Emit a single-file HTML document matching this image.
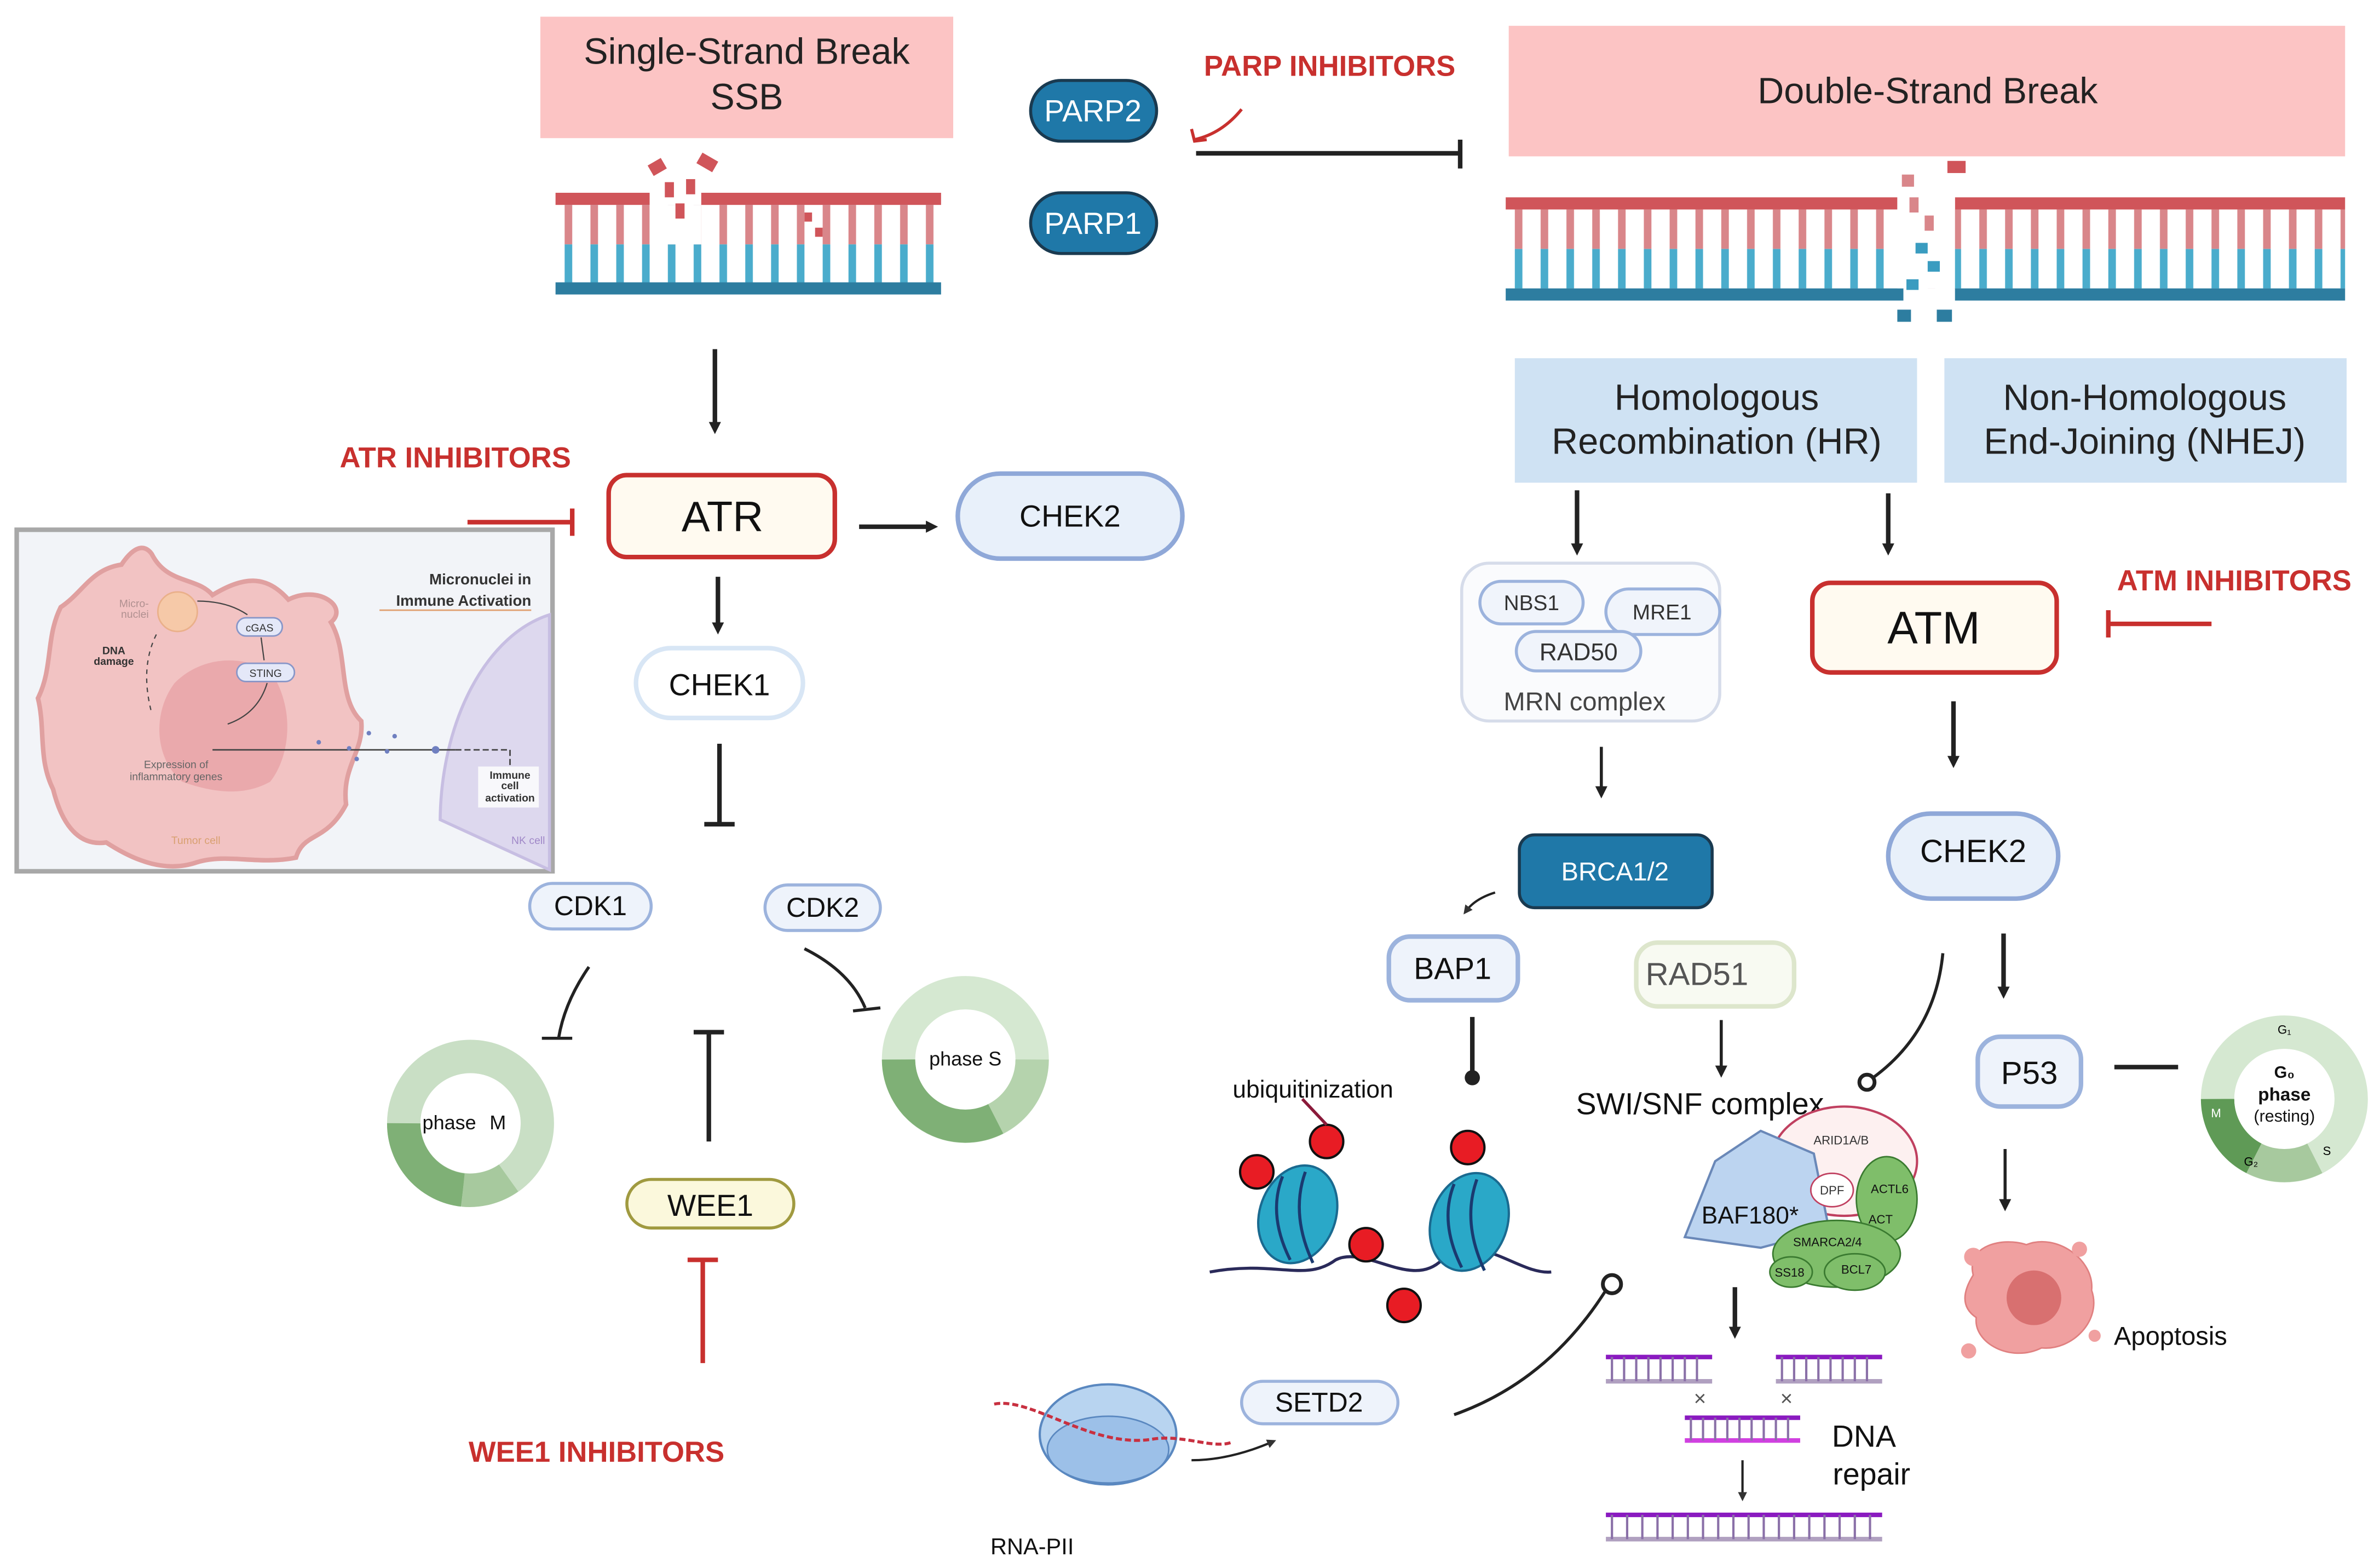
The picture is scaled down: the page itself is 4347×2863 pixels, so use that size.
<!DOCTYPE html>
<html><head><meta charset="utf-8"><style>
html,body{margin:0;padding:0;background:#fff;}
svg{display:block;}
text{font-family:"Liberation Sans",sans-serif;}
</style></head><body>
<svg width="4347" height="2863" viewBox="0 0 1568 1033" preserveAspectRatio="none" xmlns="http://www.w3.org/2000/svg">
<defs>
<marker id="ah" markerWidth="8" markerHeight="8" refX="4" refY="4" orient="auto" markerUnits="userSpaceOnUse" viewBox="0 0 8 8"><path d="M0,0 L8,4 L0,8 z" fill="#222"/></marker>
<marker id="ahs" markerWidth="6" markerHeight="6" refX="3" refY="3" orient="auto" markerUnits="userSpaceOnUse" viewBox="0 0 6 6"><path d="M0,0 L6,3 L0,6 z" fill="#333"/></marker>
<pattern id="tr" x="366" y="135" width="17" height="52" patternUnits="userSpaceOnUse"><rect x="6" y="0" width="5" height="26" fill="#d9868a"/><rect x="6" y="26" width="5" height="26" fill="#4aaccc"/></pattern>
<pattern id="tr2" x="992" y="138" width="17" height="52" patternUnits="userSpaceOnUse"><rect x="6" y="0" width="5" height="26" fill="#d9868a"/><rect x="6" y="26" width="5" height="26" fill="#4aaccc"/></pattern>
</defs>
<rect width="1568" height="1033" fill="#fff"/>

<!-- SSB -->
<rect x="356" y="11" width="272" height="80" fill="#fcc4c4"/>
<text x="492" y="42" font-size="24" text-anchor="middle" fill="#222">Single-Strand Break</text>
<text x="492" y="72" font-size="24" text-anchor="middle" fill="#222">SSB</text>
<rect x="366" y="135" width="254" height="52" fill="url(#tr)"/>
<rect x="366" y="127" width="62" height="8" fill="#d0555a"/>
<rect x="462" y="127" width="158" height="8" fill="#d0555a"/>
<rect x="366" y="186" width="254" height="8" fill="#2d7da0"/>
<rect x="428" y="135" width="34" height="26" fill="#fff"/>
<g fill="#d0555a"><rect x="428" y="106" width="10" height="8" transform="rotate(-30 433 110)"/><rect x="460" y="103" width="12" height="8" transform="rotate(30 466 107)"/><rect x="438" y="120" width="6" height="10"/><rect x="452" y="118" width="6" height="10"/><rect x="445" y="134" width="6" height="10"/><rect x="530" y="140" width="5" height="6"/><rect x="537" y="150" width="5" height="6"/></g>

<!-- PARP -->
<rect x="679" y="53" width="83" height="40" rx="20" fill="#1f78a8" stroke="#1a3a50" stroke-width="2"/>
<text x="720" y="80" font-size="20" text-anchor="middle" fill="#fff">PARP2</text>
<rect x="679" y="127" width="83" height="40" rx="20" fill="#1f78a8" stroke="#1a3a50" stroke-width="2"/>
<text x="720" y="154" font-size="20" text-anchor="middle" fill="#fff">PARP1</text>
<text x="876" y="50" font-size="19" font-weight="bold" text-anchor="middle" fill="#c8302e">PARP INHIBITORS</text>
<path d="M818,72 Q805,88 787,92" stroke="#c8302e" stroke-width="2" fill="none"/>
<path d="M785,85 L787,93 L795,92" stroke="#c8302e" stroke-width="2" fill="none"/>
<line x1="788" y1="101" x2="962" y2="101" stroke="#222" stroke-width="3"/>
<line x1="962" y1="92" x2="962" y2="111" stroke="#222" stroke-width="3"/>

<!-- DSB -->
<rect x="994" y="17" width="551" height="86" fill="#fcc4c4"/>
<text x="1270" y="68" font-size="24" text-anchor="middle" fill="#222">Double-Strand Break</text>
<rect x="992" y="138" width="553" height="52" fill="url(#tr2)"/>
<rect x="992" y="130" width="258" height="8" fill="#d0555a"/>
<rect x="1288" y="130" width="257" height="8" fill="#d0555a"/>
<rect x="992" y="190" width="262" height="8" fill="#2d7da0"/>
<rect x="1288" y="190" width="257" height="8" fill="#2d7da0"/>
<rect x="1250" y="130" width="38" height="60" fill="#fff"/>
<g fill="#d9868a"><rect x="1253" y="115" width="8" height="8"/><rect x="1283" y="106" width="12" height="8" fill="#d0555a"/><rect x="1258" y="130" width="6" height="10"/><rect x="1268" y="142" width="6" height="10"/></g>
<g fill="#3a9cc0"><rect x="1262" y="160" width="8" height="7"/><rect x="1270" y="172" width="8" height="7"/><rect x="1256" y="184" width="8" height="7"/><rect x="1276" y="204" width="10" height="8" fill="#2d7da0"/><rect x="1250" y="204" width="9" height="8" fill="#2d7da0"/></g>

<rect x="998" y="236" width="265" height="82" fill="#cfe2f3"/>
<text x="1131" y="270" font-size="24" text-anchor="middle" fill="#222">Homologous</text>
<text x="1131" y="299" font-size="24" text-anchor="middle" fill="#222">Recombination (HR)</text>
<rect x="1281" y="236" width="265" height="82" fill="#cfe2f3"/>
<text x="1413" y="270" font-size="24" text-anchor="middle" fill="#222">Non-Homologous</text>
<text x="1413" y="299" font-size="24" text-anchor="middle" fill="#222">End-Joining (NHEJ)</text>

<!-- ATR branch -->
<line x1="471" y1="230" x2="471" y2="282" stroke="#222" stroke-width="3" marker-end="url(#ah)"/>
<rect x="401" y="313" width="149" height="54" rx="12" fill="#fffaf0" stroke="#c8302e" stroke-width="3"/>
<text x="476" y="350" font-size="28" text-anchor="middle" fill="#111">ATR</text>
<text x="300" y="308" font-size="19" font-weight="bold" text-anchor="middle" fill="#c8302e">ATR INHIBITORS</text>
<line x1="308" y1="344" x2="377" y2="344" stroke="#c8302e" stroke-width="3"/>
<line x1="377" y1="335" x2="377" y2="353" stroke="#c8302e" stroke-width="3"/>
<line x1="566" y1="347" x2="614" y2="347" stroke="#222" stroke-width="3" marker-end="url(#ah)"/>
<rect x="631" y="312" width="148" height="56" rx="28" fill="#e8f0fa" stroke="#8fa8d8" stroke-width="3"/>
<text x="705" y="347" font-size="20" text-anchor="middle" fill="#111">CHEK2</text>
<line x1="473" y1="380" x2="473" y2="414" stroke="#222" stroke-width="3" marker-end="url(#ah)"/>
<rect x="419" y="427" width="110" height="46" rx="23" fill="#fff" stroke="#d8e6f5" stroke-width="3"/>
<text x="474" y="458" font-size="20" text-anchor="middle" fill="#111">CHEK1</text>
<line x1="474" y1="490" x2="474" y2="543" stroke="#222" stroke-width="3"/>
<line x1="464" y1="543" x2="484" y2="543" stroke="#222" stroke-width="3"/>
<rect x="349" y="582" width="80" height="30" rx="15" fill="#eef3fb" stroke="#9cb3dd" stroke-width="2"/>
<text x="389" y="603" font-size="18" text-anchor="middle" fill="#111">CDK1</text>
<rect x="504" y="583" width="76" height="30" rx="15" fill="#eef3fb" stroke="#9cb3dd" stroke-width="2"/>
<text x="542" y="604" font-size="18" text-anchor="middle" fill="#111">CDK2</text>
<path d="M388,637 Q372,660 368,684" stroke="#222" stroke-width="2" fill="none"/><line x1="357" y1="684" x2="377" y2="684" stroke="#222" stroke-width="2"/>
<path d="M530,625 Q560,640 570,664" stroke="#222" stroke-width="2" fill="none"/><line x1="562" y1="666" x2="580" y2="664" stroke="#222" stroke-width="2"/>
<g transform="translate(310,740)">
<circle r="44" fill="none" stroke="#c9dfc5" stroke-width="22"/>
<path d="M-44,0 A44,44 0 0 0 -5,44" fill="none" stroke="#7fb076" stroke-width="22"/>
<path d="M-5,44 A44,44 0 0 0 25,36" fill="none" stroke="#a7c99e" stroke-width="22"/>
<circle r="33" fill="#fff"/>
<text x="-14" y="4" font-size="13" text-anchor="middle" fill="#111">phase</text><text x="18" y="4" font-size="13" text-anchor="middle" fill="#111">M</text>
</g>
<g transform="translate(636,698)">
<circle r="44" fill="none" stroke="#d5e8d1" stroke-width="22"/>
<path d="M-44,0 A44,44 0 0 0 20,39" fill="none" stroke="#7fb076" stroke-width="22"/>
<path d="M20,39 A44,44 0 0 0 44,0" fill="none" stroke="#b5d3ad" stroke-width="22"/>
<circle r="33" fill="#fff"/>
<text x="0" y="4" font-size="13" text-anchor="middle" fill="#111">phase S</text>
</g>
<line x1="467" y1="752" x2="467" y2="680" stroke="#222" stroke-width="3"/><line x1="457" y1="680" x2="477" y2="680" stroke="#222" stroke-width="3"/>
<rect x="413" y="777" width="110" height="32" rx="16" fill="#fbf8dc" stroke="#a09a40" stroke-width="2"/>
<text x="468" y="801" font-size="20" text-anchor="middle" fill="#111">WEE1</text>
<line x1="463" y1="898" x2="463" y2="830" stroke="#c8302e" stroke-width="3"/><line x1="453" y1="830" x2="473" y2="830" stroke="#c8302e" stroke-width="3"/>
<text x="393" y="963" font-size="19" font-weight="bold" text-anchor="middle" fill="#c8302e">WEE1 INHIBITORS</text>

<!-- inset -->
<rect x="11" y="349" width="353" height="225" fill="#f2f4f8" stroke="#a8a8a8" stroke-width="3"/>
<path d="M290,540 A90,140 0 0 1 362,405 L362,573 Z" fill="#ddd8ee" stroke="#c7bee2" stroke-width="2"/>
<path d="M100,365 C110,385 130,380 140,392 C160,380 175,378 190,395 C210,385 230,400 218,410 C230,430 222,460 238,475 C240,495 225,505 228,530 C215,555 200,548 195,565 C170,570 150,562 130,568 C110,575 90,568 70,555 C50,558 40,540 35,520 C25,500 30,480 25,460 C35,440 30,420 40,400 C55,390 60,375 80,372 C88,360 95,358 100,365 Z" fill="#f2c3c3" stroke="#e0a0a0" stroke-width="3"/>
<path d="M115,450 C135,430 165,432 180,445 C195,470 190,500 178,515 C160,525 140,522 120,515 C102,500 100,470 115,450 Z" fill="#eaa9ac"/>
<circle cx="117" cy="403" r="13" fill="#f6c9a8" stroke="#eab08a"/>
<rect x="156" y="407" width="30" height="12" rx="6" fill="#e4e8f8" stroke="#8896c8"/><text x="171" y="416" font-size="7" text-anchor="middle" fill="#333">cGAS</text>
<rect x="156" y="437" width="38" height="12" rx="6" fill="#e4e8f8" stroke="#8896c8"/><text x="175" y="446" font-size="7" text-anchor="middle" fill="#333">STING</text>
<path d="M130,396 Q150,396 163,405" stroke="#444" stroke-width="0.8" fill="none"/>
<path d="M172,420 L174,435" stroke="#444" stroke-width="0.8"/>
<path d="M176,450 Q170,470 150,477" stroke="#444" stroke-width="0.8" fill="none"/>
<path d="M103,418 Q92,440 100,470" stroke="#444" stroke-width="0.8" fill="none" stroke-dasharray="3 3"/>
<text x="98" y="400" font-size="7" text-anchor="end" fill="#b09090">Micro-</text><text x="98" y="407" font-size="7" text-anchor="end" fill="#b09090">nuclei</text>
<text x="75" y="431" font-size="7" font-weight="bold" text-anchor="middle" fill="#333">DNA</text><text x="75" y="438" font-size="7" font-weight="bold" text-anchor="middle" fill="#333">damage</text>
<text x="116" y="506" font-size="7" text-anchor="middle" fill="#666">Expression of</text><text x="116" y="514" font-size="7" text-anchor="middle" fill="#666">inflammatory genes</text>
<line x1="140" y1="494" x2="300" y2="494" stroke="#444" stroke-width="1"/>
<path d="M300,494 L336,494 L336,505" stroke="#444" stroke-width="1" fill="none" stroke-dasharray="4 2"/>
<g fill="#6f7fc0"><circle cx="210" cy="489" r="1.5"/><circle cx="230" cy="493" r="1.5"/><circle cx="243" cy="483" r="1.5"/><circle cx="255" cy="495" r="1.5"/><circle cx="235" cy="500" r="1.5"/><circle cx="260" cy="485" r="1.5"/><circle cx="287" cy="494" r="2.5"/></g>
<text x="350" y="385" font-size="10" font-weight="bold" text-anchor="end" fill="#333">Micronuclei in</text>
<text x="350" y="399" font-size="10" font-weight="bold" text-anchor="end" fill="#333">Immune Activation</text>
<line x1="250" y1="402" x2="350" y2="402" stroke="#e0a070" stroke-width="1"/>
<rect x="315" y="505" width="40" height="27" fill="#f8f8fb"/>
<text x="336" y="513" font-size="7" font-weight="bold" text-anchor="middle" fill="#333">Immune</text><text x="336" y="520" font-size="7" font-weight="bold" text-anchor="middle" fill="#333">cell</text><text x="336" y="528" font-size="7" font-weight="bold" text-anchor="middle" fill="#333">activation</text>
<text x="129" y="556" font-size="7" text-anchor="middle" fill="#d8a070">Tumor cell</text>
<text x="348" y="556" font-size="7" text-anchor="middle" fill="#a088c8">NK cell</text>

<!-- HR branch -->
<line x1="1039" y1="323" x2="1039" y2="362" stroke="#222" stroke-width="3" marker-end="url(#ah)"/>
<line x1="1244" y1="325" x2="1244" y2="362" stroke="#222" stroke-width="3" marker-end="url(#ah)"/>
<rect x="963" y="371" width="170" height="104" rx="18" fill="#fafbfd" stroke="#d6dcea" stroke-width="2"/>
<rect x="975" y="383" width="68" height="28" rx="14" fill="#f0f4fb" stroke="#9cb3dd" stroke-width="2"/><text x="1009" y="402" font-size="14" text-anchor="middle" fill="#333">NBS1</text>
<rect x="1058" y="388" width="75" height="30" rx="15" fill="#f0f4fb" stroke="#9cb3dd" stroke-width="2"/><text x="1095" y="408" font-size="14" text-anchor="middle" fill="#333">MRE1</text>
<rect x="999" y="416" width="82" height="26" rx="13" fill="#f0f4fb" stroke="#9cb3dd" stroke-width="2"/><text x="1040" y="435" font-size="16" text-anchor="middle" fill="#333">RAD50</text>
<text x="1044" y="468" font-size="17" text-anchor="middle" fill="#444">MRN complex</text>
<rect x="1194" y="384" width="161" height="59" rx="12" fill="#fffaf0" stroke="#c8302e" stroke-width="3"/>
<text x="1274" y="424" font-size="30" text-anchor="middle" fill="#111">ATM</text>
<text x="1472" y="389" font-size="19" font-weight="bold" text-anchor="middle" fill="#c8302e">ATM INHIBITORS</text>
<line x1="1457" y1="411" x2="1389" y2="411" stroke="#c8302e" stroke-width="3"/><line x1="1389" y1="402" x2="1389" y2="420" stroke="#c8302e" stroke-width="3"/>
<line x1="1287" y1="462" x2="1287" y2="502" stroke="#222" stroke-width="3" marker-end="url(#ah)"/>
<rect x="1244" y="536" width="112" height="56" rx="28" fill="#e8f0fa" stroke="#8fa8d8" stroke-width="3"/>
<text x="1300" y="568" font-size="21" text-anchor="middle" fill="#111">CHEK2</text>
<line x1="1055" y1="492" x2="1055" y2="522" stroke="#222" stroke-width="2" marker-end="url(#ah)"/>
<rect x="1001" y="550" width="127" height="48" rx="10" fill="#1f78a8" stroke="#1a3a50" stroke-width="2"/>
<text x="1064" y="580" font-size="17" text-anchor="middle" fill="#fff">BRCA1/2</text>
<path d="M985,588 Q972,592 966,600" stroke="#222" stroke-width="1.5" fill="none" marker-end="url(#ahs)"/>
<rect x="915" y="617" width="85" height="42" rx="14" fill="#eef3fb" stroke="#9cb3dd" stroke-width="3"/>
<text x="957" y="645" font-size="20" text-anchor="middle" fill="#111">BAP1</text>
<rect x="1078" y="621" width="104" height="42" rx="14" fill="#f8faf2" stroke="#dde6cc" stroke-width="3"/>
<text x="1118" y="649" font-size="21" text-anchor="middle" fill="#555">RAD51</text>
<line x1="970" y1="670" x2="970" y2="708" stroke="#222" stroke-width="3"/><circle cx="970" cy="710" r="5" fill="#222"/>
<text x="865" y="723" font-size="16" text-anchor="middle" fill="#111">ubiquitinization</text>
<path d="M797,838 C840,830 860,845 880,830 C900,820 930,850 950,830 C975,810 1000,840 1022,838" stroke="#2a2a5a" stroke-width="2" fill="none"/>
<g fill="#2aa8c8" stroke="#1a6a90" stroke-width="1.5"><ellipse cx="855" cy="800" rx="25" ry="33" transform="rotate(20 855 800)"/><ellipse cx="968" cy="805" rx="25" ry="33" transform="rotate(20 968 805)"/></g>
<g stroke="#1a3a70" stroke-width="2" fill="none"><path d="M845,775 Q835,800 850,830"/><path d="M860,772 Q850,800 865,832"/><path d="M958,780 Q948,805 963,835"/><path d="M973,777 Q963,805 978,837"/></g>
<g fill="#e81c24" stroke="#111" stroke-width="1.5"><circle cx="828" cy="772" r="11"/><circle cx="874" cy="752" r="11"/><circle cx="900" cy="820" r="11"/><circle cx="925" cy="860" r="11"/><circle cx="967" cy="756" r="11"/></g>
<line x1="874" y1="741" x2="858" y2="724" stroke="#8a1a3a" stroke-width="2"/>
<line x1="1134" y1="672" x2="1134" y2="706" stroke="#222" stroke-width="2" marker-end="url(#ah)"/>
<text x="1120" y="734" font-size="20" text-anchor="middle" fill="#111">SWI/SNF complex</text>
<ellipse cx="1215" cy="765" rx="48" ry="36" fill="#fdf0f0" stroke="#c04060" stroke-width="1.5"/>
<path d="M1110,815 L1130,765 L1160,745 L1195,760 L1205,810 L1160,822 Z" fill="#bcd4f0" stroke="#6a88b8" stroke-width="1.5"/>
<ellipse cx="1243" cy="790" rx="20" ry="28" fill="#7fbe6a" stroke="#3a7a30"/>
<ellipse cx="1210" cy="826" rx="42" ry="22" fill="#7fbe6a" stroke="#3a7a30"/>
<ellipse cx="1180" cy="838" rx="14" ry="10" fill="#7fbe6a" stroke="#3a7a30"/>
<ellipse cx="1222" cy="838" rx="20" ry="12" fill="#7fbe6a" stroke="#3a7a30"/>
<ellipse cx="1207" cy="784" rx="14" ry="11" fill="#fff" stroke="#c04060"/>
<text x="1213" y="754" font-size="8" text-anchor="middle" fill="#333">ARID1A/B</text>
<text x="1207" y="787" font-size="8" text-anchor="middle" fill="#333">DPF</text>
<text x="1245" y="786" font-size="8" text-anchor="middle" fill="#111">ACTL6</text>
<text x="1239" y="806" font-size="8" text-anchor="middle" fill="#111">ACT</text>
<text x="1204" y="821" font-size="8" text-anchor="middle" fill="#111">SMARCA2/4</text>
<text x="1179" y="841" font-size="8" text-anchor="middle" fill="#111">SS18</text>
<text x="1223" y="839" font-size="8" text-anchor="middle" fill="#111">BCL7</text>
<text x="1153" y="806" font-size="16" text-anchor="middle" fill="#111">BAF180*</text>
<path d="M1280,628 Q1275,680 1234,710" stroke="#222" stroke-width="2" fill="none"/><circle cx="1230" cy="713" r="5" fill="#fff" stroke="#222" stroke-width="2.5"/>
<line x1="1320" y1="615" x2="1320" y2="654" stroke="#222" stroke-width="3" marker-end="url(#ah)"/>
<rect x="1303" y="683" width="68" height="46" rx="15" fill="#eef3fb" stroke="#9cb3dd" stroke-width="3"/>
<text x="1337" y="714" font-size="21" text-anchor="middle" fill="#111">P53</text>
<line x1="1393" y1="703" x2="1435" y2="703" stroke="#222" stroke-width="3"/>
<g transform="translate(1505,724)">
<circle r="44" fill="none" stroke="#d5e8d1" stroke-width="22"/>
<path d="M-44,0 A44,44 0 0 0 -20,39" fill="none" stroke="#5f9a56" stroke-width="22"/>
<path d="M-20,39 A44,44 0 0 0 20,39" fill="none" stroke="#a7c99e" stroke-width="22"/>
<circle r="33" fill="#fff"/>
<text x="0" y="-14" font-size="11" font-weight="bold" text-anchor="middle" fill="#111">G₀</text>
<text x="0" y="1" font-size="12" font-weight="bold" text-anchor="middle" fill="#111">phase</text>
<text x="0" y="15" font-size="11" text-anchor="middle" fill="#111">(resting)</text>
<text x="0" y="-43" font-size="8" text-anchor="middle">G₁</text><text x="-45" y="12" font-size="8" text-anchor="middle" fill="#fff">M</text>
<text x="-22" y="44" font-size="8" text-anchor="middle">G₂</text><text x="28" y="37" font-size="8" text-anchor="middle">S</text>
</g>
<line x1="1321" y1="757" x2="1321" y2="794" stroke="#222" stroke-width="2" marker-end="url(#ah)"/>
<path d="M1300,840 C1295,820 1320,815 1335,820 C1355,812 1380,830 1378,850 C1385,870 1365,890 1345,888 C1325,898 1300,885 1302,868 C1290,860 1295,848 1300,840 Z" fill="#f0a0a0" stroke="#e08080"/>
<circle cx="1340" cy="855" r="18" fill="#d87070"/>
<g fill="#f0a0a0"><circle cx="1300" cy="828" r="6"/><circle cx="1370" cy="823" r="5"/><circle cx="1297" cy="890" r="5"/><circle cx="1380" cy="880" r="4"/></g>
<text x="1430" y="886" font-size="17" text-anchor="middle" fill="#111">Apoptosis</text>

<rect x="818" y="910" width="103" height="28" rx="14" fill="#eef3fb" stroke="#9cb3dd" stroke-width="2"/>
<text x="869" y="930" font-size="18" text-anchor="middle" fill="#111">SETD2</text>
<ellipse cx="730" cy="945" rx="45" ry="33" fill="#b8d4f0" stroke="#5a88c0" stroke-width="1.5"/>
<ellipse cx="730" cy="955" rx="40" ry="22" fill="#9cc0e8" stroke="#5a88c0" stroke-width="1"/>
<path d="M655,925 C680,920 720,955 760,948 C780,945 800,955 812,950" stroke="#c83040" stroke-width="2" fill="none" stroke-dasharray="4 2"/>
<path d="M785,962 Q810,962 838,950" stroke="#222" stroke-width="1.5" fill="none" marker-end="url(#ahs)"/>
<text x="680" y="1024" font-size="15" text-anchor="middle" fill="#111">RNA-PII</text>
<path d="M958,932 Q1020,910 1058,850" stroke="#222" stroke-width="2" fill="none"/><circle cx="1062" cy="846" r="6" fill="#fff" stroke="#222" stroke-width="2.5"/>

<line x1="1143" y1="848" x2="1143" y2="878" stroke="#222" stroke-width="3" marker-end="url(#ah)"/>
<g stroke-width="3">
<line x1="1058" y1="894" x2="1128" y2="894" stroke="#8a1ac0"/><line x1="1058" y1="910" x2="1128" y2="910" stroke="#b0a0c0"/>
<line x1="1170" y1="894" x2="1240" y2="894" stroke="#8a1ac0"/><line x1="1170" y1="910" x2="1240" y2="910" stroke="#b0a0c0"/>
<line x1="1110" y1="934" x2="1186" y2="934" stroke="#8a1ac0"/><line x1="1110" y1="949" x2="1186" y2="949" stroke="#d040e0"/>
<line x1="1058" y1="998" x2="1240" y2="998" stroke="#8a1ac0"/><line x1="1058" y1="1014" x2="1240" y2="1014" stroke="#b0a0c0"/>
</g>
<g stroke="#8a70a8" stroke-width="1.5">
<path d="M1062,894 V910 M1070,894 V910 M1078,894 V910 M1086,894 V910 M1094,894 V910 M1102,894 V910 M1110,894 V910 M1118,894 V910 M1174,894 V910 M1182,894 V910 M1190,894 V910 M1198,894 V910 M1206,894 V910 M1214,894 V910 M1222,894 V910 M1230,894 V910 M1114,934 V949 M1122,934 V949 M1130,934 V949 M1138,934 V949 M1146,934 V949 M1154,934 V949 M1162,934 V949 M1170,934 V949 M1178,934 V949"/>
<path d="M1062,998 V1014 M1072,998 V1014 M1082,998 V1014 M1092,998 V1014 M1102,998 V1014 M1112,998 V1014 M1122,998 V1014 M1132,998 V1014 M1142,998 V1014 M1152,998 V1014 M1162,998 V1014 M1172,998 V1014 M1182,998 V1014 M1192,998 V1014 M1202,998 V1014 M1212,998 V1014 M1222,998 V1014 M1232,998 V1014"/>
</g>
<text x="1120" y="926" font-size="14" text-anchor="middle" fill="#555">×</text><text x="1177" y="926" font-size="14" text-anchor="middle" fill="#555">×</text>
<line x1="1148" y1="962" x2="1148" y2="986" stroke="#222" stroke-width="1.5" marker-end="url(#ahs)"/>
<text x="1228" y="953" font-size="20" text-anchor="middle" fill="#111">DNA</text>
<text x="1233" y="978" font-size="20" text-anchor="middle" fill="#111">repair</text>
</svg>
</body></html>
